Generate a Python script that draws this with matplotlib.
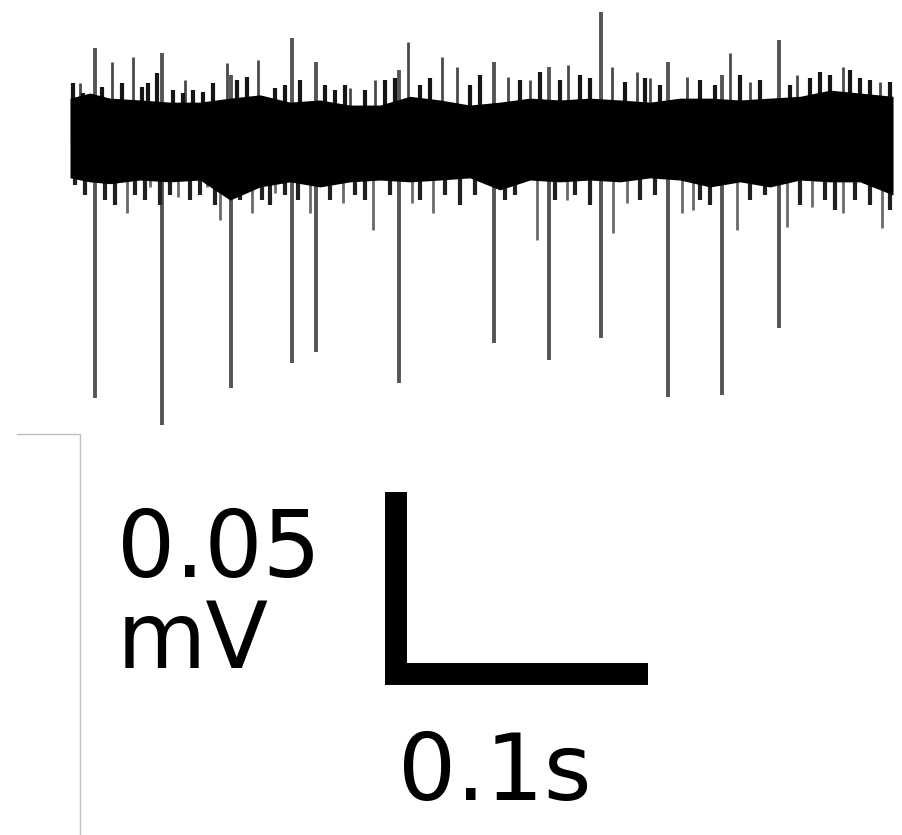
"""Extracellular trace with spikes and a 0.05 mV / 0.1 s scale bar."""

import matplotlib
matplotlib.use("Agg")
import matplotlib.pyplot as plt
from matplotlib.lines import Line2D

# --- data (time in ms, voltage in uV) ----------------------------------
# large units: one line per spike, from its lowest to its highest point
spike_t = [9.9, 36.5, 63.9, 88.1, 97.6, 130.6, 168.3, 190.1, 210.7, 237.3,
           258.7, 281.3]
spike_min = [-70.9, -78.3, -68.1, -61.3, -58.2, -66.8, -55.8, -60.4, -54.4,
             -70.6, -70.0, -51.6]
spike_max = [25.3, 23.9, 17.9, 28.0, 21.4, 19.2, 21.4, 20.1, 35.2, 21.4,
             17.9, 27.5]

# solid core of the noise band read at these times
band_t = [0, 7.9, 15.9, 27.8, 39.7, 51.6, 63.5, 75.4, 87.3, 99.2, 111.1,
          123.0, 134.9, 146.8, 158.7, 170.6, 182.5, 194.4, 206.3, 218.3,
          230.2, 242.1, 254.0, 265.9, 277.8, 289.7, 301.6, 313.5, 326.6]
band_top = [11.5, 12.9, 11.5, 11.0, 10.4, 10.4, 11.5, 12.4, 10.4, 11.0, 9.6,
            9.6, 12.0, 11.0, 9.6, 10.4, 11.5, 11.0, 11.5, 11.0, 10.4, 11.5,
            11.5, 11.0, 11.5, 12.0, 13.7, 12.9, 12.0]
band_bot = [-10.4, -11.5, -12.0, -11.0, -11.5, -11.0, -16.5, -12.9, -11.5,
            -12.9, -11.5, -11.0, -11.5, -11.0, -10.4, -13.7, -11.0, -11.5,
            -11.0, -11.5, -10.4, -11.0, -12.9, -11.5, -12.9, -11.0, -11.5,
            -11.5, -15.1]

# short dark noise strokes forming the ragged edge of the band
edge_up_t = [1.2, 5.2, 12.7, 20.6, 28.6, 31.0, 34.5, 40.9, 44.8, 48.8,
             52.8, 56.7, 66.3, 70.2, 81.3, 85.3, 91.3, 101.2, 105.2, 109.1,
             117.1, 125.0, 129.0, 138.9, 142.9, 158.7, 162.7, 178.6, 186.5,
             194.4, 202.4, 206.3, 220.2, 228.2, 234.1, 250.0, 256.0, 265.9,
             273.8, 285.7, 293.7, 297.6, 301.6, 309.5, 313.5, 317.5, 325.4]
edge_up_v = [15.7, 12.9, 14.6, 15.7, 14.6, 15.7, 18.4, 13.7, 12.9, 13.7,
             13.2, 15.7, 16.5, 17.3, 14.3, 15.1, 16.5, 15.1, 13.7, 15.1,
             13.7, 16.5, 17.0, 15.1, 17.0, 15.1, 17.9, 16.5, 18.7, 16.5,
             17.9, 17.0, 15.9, 17.0, 15.1, 16.5, 15.1, 17.9, 16.5, 15.1,
             17.0, 18.7, 17.9, 19.2, 17.0, 16.5, 15.9]
edge_dn_t = [2.0, 6.0, 13.9, 17.9, 25.8, 29.8, 35.7, 39.7, 47.6, 51.6, 57.5,
             67.5, 76.2, 79.4, 85.3, 90.5, 103.2, 113.1, 117.1, 127.0, 138.9,
             148.8, 154.8, 160.7, 172.6, 176.6, 192.5, 200.4, 206.3, 226.2,
             232.1, 250.0, 254.0, 269.8, 275.8, 289.7, 299.6, 303.6, 311.5,
             317.5, 325.4]
edge_dn_v = [-12.4, -15.1, -16.5, -17.9, -15.1, -16.5, -17.9, -15.1, -16.5,
             -15.1, -17.9, -16.5, -16.5, -17.9, -15.1, -16.5, -16.5, -15.1,
             -16.5, -15.1, -16.5, -15.1, -17.9, -15.1, -16.5, -15.1, -16.5,
             -15.1, -17.9, -16.5, -15.1, -16.5, -17.9, -16.5, -15.1, -17.9,
             -16.5, -19.2, -16.5, -17.9, -19.2]

# larger noise excursions sticking out of the band
up_t = [4.0, 16.7, 25.0, 45.6, 62.3, 74.6, 111.1, 121.0, 134.1, 147.6,
        153.6, 173.8, 182.5, 197.6, 215.1, 225.0, 230.2, 244.8, 261.9,
        269.8, 288.5, 306.7, 321.4]
up_v = [15.7, 21.4, 22.8, 16.5, 21.2, 22.0, 14.3, 16.5, 26.9, 22.8, 20.1,
        17.3, 16.5, 20.6, 20.1, 18.7, 17.0, 17.3, 23.9, 15.9, 17.9, 20.1,
        15.9]
down_t = [22.6, 31.7, 42.9, 54.4, 59.5, 72.2, 81.3, 95.2, 108.3, 120.2,
          135.7, 144.0, 185.3, 197.2, 215.5, 221.0, 242.9, 247.2, 264.7,
          284.5, 294.4, 306.7, 322.2]
down_v = [-20.1, -12.9, -15.7, -12.9, -22.0, -20.1, -14.6, -20.1, -17.3,
          -24.7, -17.3, -20.1, -27.5, -16.5, -25.5, -17.3, -20.1, -19.2,
          -24.7, -23.9, -18.4, -20.1, -24.2]

bar_ms = 100   # 0.1 s
bar_uv = 50    # 0.05 mV


def main() -> None:
    fig = plt.figure(figsize=(9.03, 8.35), dpi=100)
    ax = fig.add_axes([0, 0, 1, 1])
    ax.set_xlim(-27.78, 330.56)
    ax.set_ylim(-190.93, 38.46)
    ax.axis("off")

    # trace: spikes and hairs first, band on top of them
    ax.vlines(spike_t, spike_min, spike_max, color="#555555", linewidth=2.8,
              zorder=1)
    ax.vlines(up_t, 0, up_v, color="#4a4a4a", linewidth=2.0, zorder=1)
    ax.vlines(down_t, down_v, 0, color="#6a6a6a", linewidth=2.0, zorder=1)
    ax.vlines(edge_up_t, 0, edge_up_v, color="#151515", linewidth=3.0,
              zorder=2)
    ax.vlines(edge_dn_t, edge_dn_v, 0, color="#202020", linewidth=3.0,
              zorder=2)
    ax.fill_between(band_t, band_bot, band_top, color="black",
                    linewidth=0, zorder=3)

    # scale bar
    x0, y0 = 129.4, -146.7
    ax.plot([x0, x0, x0 + bar_ms], [y0 + bar_uv, y0, y0], color="black",
            linewidth=15.8, solid_capstyle="butt", solid_joinstyle="miter")

    font = dict(family="DejaVu Sans", fontsize=66, color="black",
                ha="left", va="baseline")
    ax.text(18.6, -120.1, "0.05", **font)
    ax.text(18.6, -145.1, "mV", **font)
    ax.text(130.0, -181.3, "0.1s", **font)

    # corner of the neighbouring panel frame
    fig.add_artist(Line2D([17 / 903, 80 / 903, 80 / 903],
                          [1 - 434 / 835, 1 - 434 / 835, 0],
                          color="#c0c0c0", linewidth=1.0))

    fig.savefig("out.png", dpi=100)


if __name__ == "__main__":
    main()
